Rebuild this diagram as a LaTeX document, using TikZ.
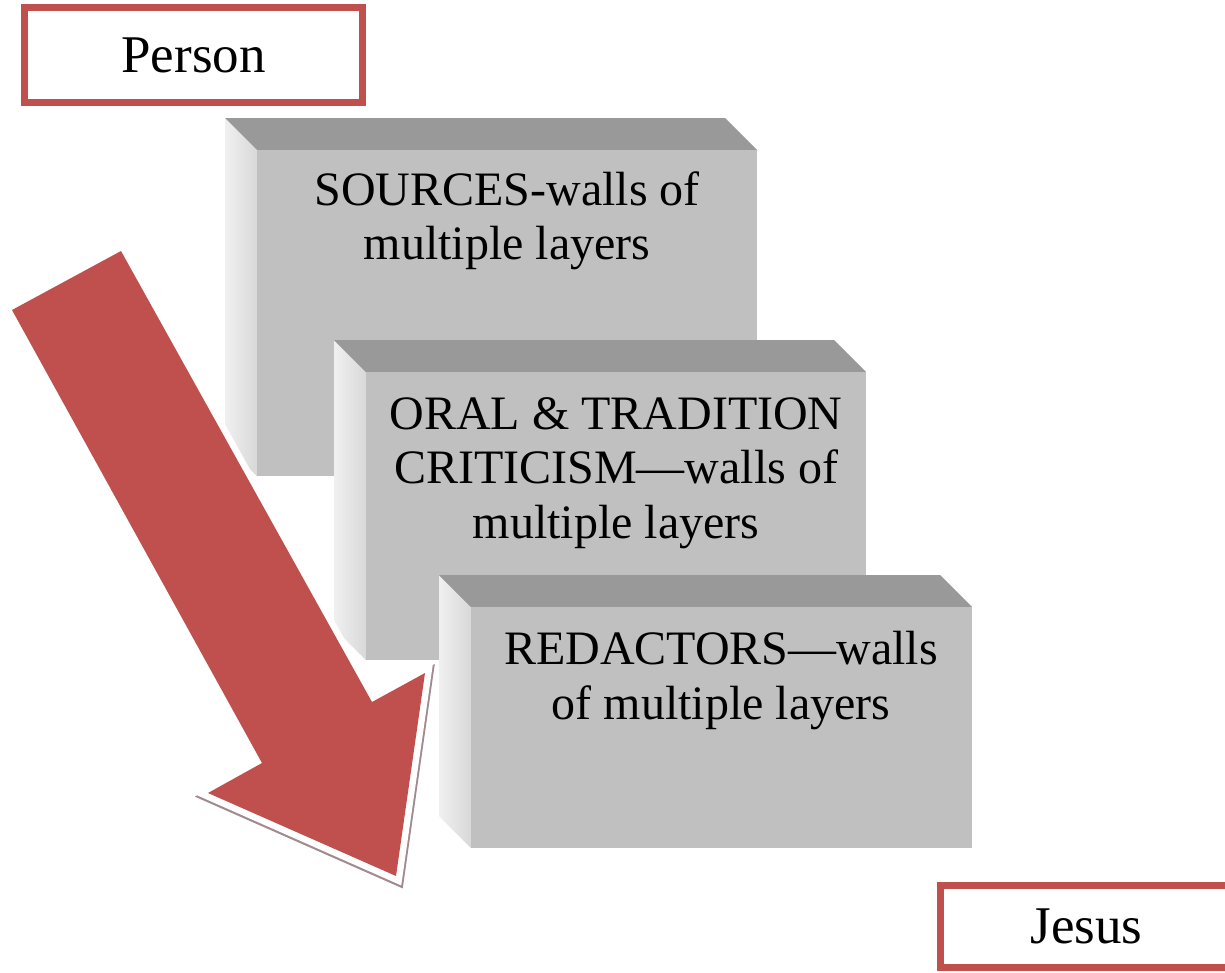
\documentclass[tikz,border=0pt]{standalone}
\usepackage{fontspec}
\setmainfont{Liberation Serif}
\definecolor{accred}{HTML}{C0504D}
\definecolor{topgray}{HTML}{999999}
\definecolor{frontgray}{HTML}{C0C0C0}
\definecolor{sidelight}{HTML}{F0F0F0}
\definecolor{sidedark}{HTML}{D8D8D8}
\definecolor{shadowmauve}{HTML}{A08A8E}
\newcommand\wallblock[4]{%
  \shade[left color=sidelight, right color=sidedark]
    ({#1-32},{#2-32}) -- (#1,#2) -- (#1,#4) -- ({#1-32},{#4-32}) -- cycle;
  \fill[topgray] ({#1-32},{#2-32}) -- ({#3-32},{#2-32}) -- (#3,#2) -- (#1,#2) -- cycle;
  \fill[frontgray] (#1,#2) rectangle (#3,#4);
}
\begin{document}
\begin{tikzpicture}[x=1pt,y=-1pt,
  walltext/.style={font=\fontsize{48}{54.5}\selectfont, align=center, inner sep=0pt, anchor=north},
  labelbox/.style={draw=accred, line width=7pt, fill=white, font=\fontsize{53}{60}\selectfont, inner sep=0pt},
  arrowshadow/.style={draw=shadowmauve, fill=shadowmauve, line width=13pt, line join=miter},
  arrowglow/.style={draw=white, fill=white, line width=13pt, line join=miter},
  arrowbody/.style={fill=accred}]
\useasboundingbox (0,0) rectangle (1225,972);
\fill[white] (0,0) rectangle (1225,972);

% walls
\wallblock{257}{150}{757}{476}
\wallblock{366}{372}{866}{660}
\wallblock{471}{607}{972}{848}

\node[walltext] (sources) at (507,171) {SOURCES-walls of\\multiple layers};
\node[walltext] (oral) at (616,397) {ORAL \& TRADITION\\CRITICISM—walls of\\multiple layers};
\node[walltext] (redactors) at (721,631) {REDACTORS—walls\\of multiple layers};

% big arrow
\path[arrowshadow] (209.5,796) -- (397.5,879) -- (426.5,676) -- cycle;
\path[arrowglow] (12,310) -- (262,763) -- (208,793) -- (396,876) -- (425,673) -- (372,702) -- (121,251) -- cycle;
\path[arrowbody] (12,310) -- (262,763) -- (208,793) -- (396,876) -- (425,673) -- (372,702) -- (121,251) -- cycle;

% labels
\node[labelbox, minimum width=338pt, minimum height=95pt] (person) at (193.5,55) {Person};
\node[labelbox, anchor=west, inner xsep=90.5pt, text width=180pt, align=left, minimum height=82pt] (jesus) at (936.5,926.5) {Jesus};
\end{tikzpicture}
\end{document}
